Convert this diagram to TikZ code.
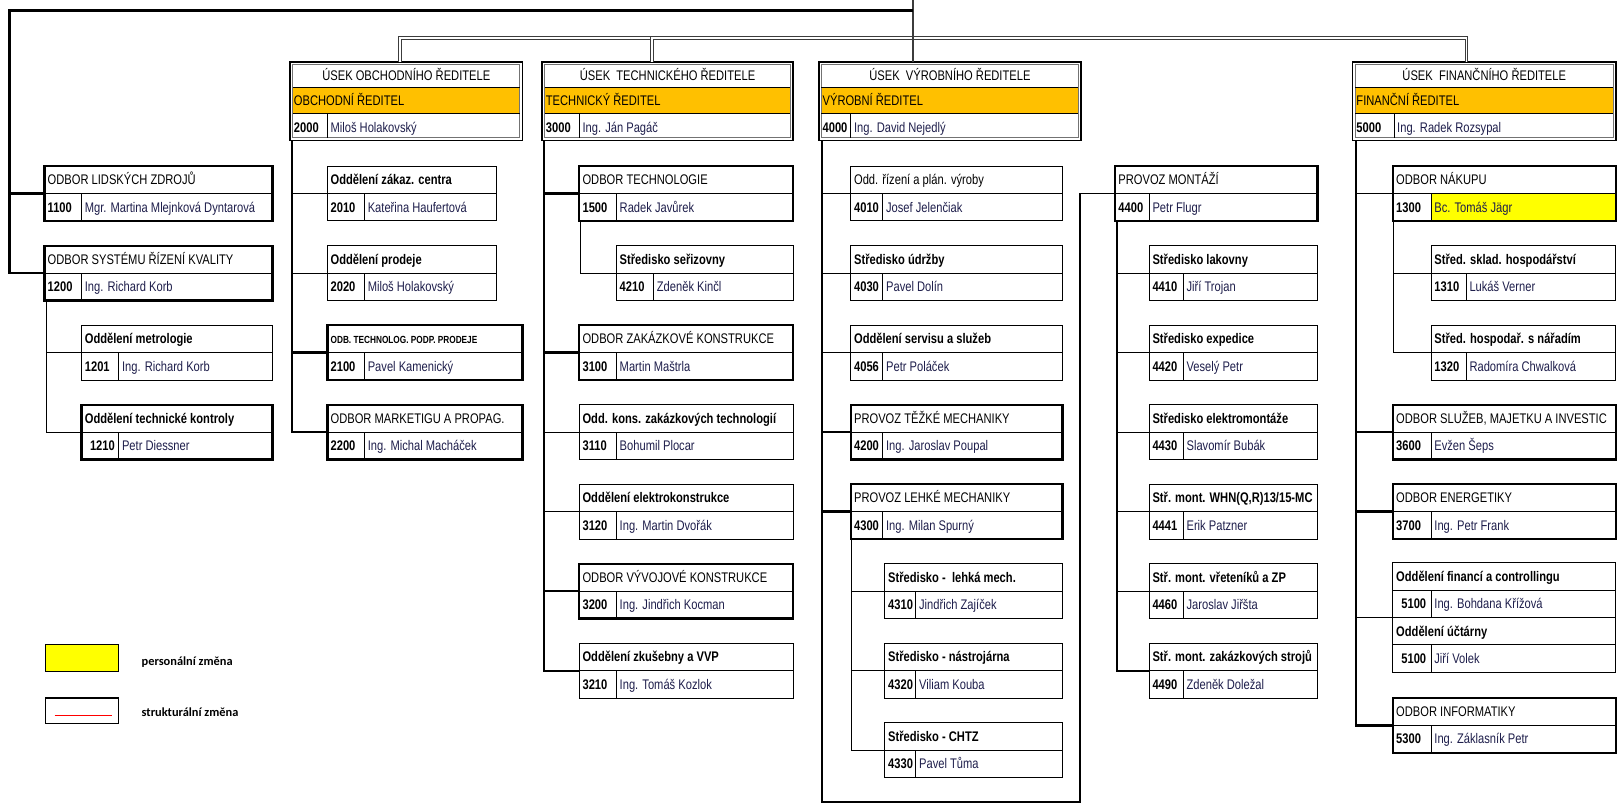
\documentclass[tikz,border=0pt]{standalone}
\usepackage{fontspec}
\setmainfont{Liberation Sans}[FakeStretch=0.8]
\newfontfamily\legfont{Carlito}
\usetikzlibrary{calc}
\usetikzlibrary{backgrounds}
\definecolor{roleorange}{RGB}{255,192,0}
\definecolor{perschange}{RGB}{255,255,0}
\definecolor{namenavy}{RGB}{30,30,75}
\definecolor{railgray}{RGB}{60,60,60}

\newcommand{\codew}{36}

\tikzset{
	boxthick/.style={draw, rectangle, line width=2.3pt, outer sep=0pt},
	boxthin/.style={draw, rectangle, line width=0.9pt, outer sep=0pt},
	usek/.style={draw, rectangle, line width=1.5pt, outer sep=0pt},
	divider/.style={line width=0.8pt},
	headtxt/.style={anchor=base west, inner sep=0pt, font=\fontsize{13.5}{15}\selectfont},
	codetxt/.style={anchor=base west, inner sep=0pt, font=\fontsize{13.5}{15}\selectfont\bfseries},
	nametxt/.style={anchor=base west, inner sep=0pt, text=namenavy, font=\fontsize{13.5}{15}\selectfont},
	usektxt/.style={anchor=base, inner sep=0pt, font=\fontsize{13.5}{15}\selectfont},
	conthick/.style={line width=2.3pt},
	conthin/.style={line width=0.9pt},
	trunk/.style={line width=1.7pt},
	rail/.style={draw=railgray, line width=0.9pt, double=white, double distance=1.5pt},
	legtxt/.style={anchor=west, inner sep=0pt, font=\legfont\bfseries\fontsize{12}{14}\selectfont},
}

\newcommand{\unitBox}[7]{
	\node[#7, minimum width=#3pt, minimum height=53pt, anchor=north west] (#1) at (#2) {};
	\draw[divider] (#1.west) -- (#1.east);
	\draw[divider] ($(#1.west)+(\codew,0)$) -- ($(#1.south west)+(\codew,0)$);
	\node[headtxt] at ($(#1.north west)+(3,18)$) {#4};
	\node[codetxt] at ($(#1.west)+(3,18)$) {#5};
	\node[nametxt] at ($(#1.west)+(\codew+3,18)$) {#6};
}
\newcommand{\usekBox}[7]{
	\node[usek, minimum width=#3pt, minimum height=76pt, anchor=north west] (#1) at (#2) {};
	\fill[roleorange] ($(#1.north west)+(2.5,25)$) rectangle ($(#1.north east)+(-2.5,50)$);
	\draw[divider, black!55] ($(#1.north west)+(2.5,2.5)$) rectangle ($(#1.south east)+(-2.5,-2.5)$);
	\draw[divider] ($(#1.north west)+(2.5,25)$) -- ($(#1.north east)+(-2.5,25)$);
	\draw[divider] ($(#1.north west)+(2.5,50)$) -- ($(#1.north east)+(-2.5,50)$);
	\draw[divider] ($(#1.north west)+(\codew,50)$) -- ($(#1.south west)+(\codew,-2.5)$);
	\node[usektxt] at ($(#1.north)+(0,17.5)$) {#4};
	\node[headtxt] at ($(#1.north west)+(3.5,42)$) {#5};
	\node[codetxt] at ($(#1.north west)+(3.5,68)$) {#6};
	\node[nametxt] at ($(#1.north west)+(\codew+3,68)$) {#7};
}

\begin{document}
\begin{tikzpicture}[x=1pt, y=-1pt]
	\begin{scope}[on background layer]
		\fill[white] (0,0) rectangle (1568,778);
	\end{scope}
	\useasboundingbox (0,0) rectangle (1568,778);

	\coordinate (CEO) at (884,0);
	\coordinate (RAIL) at (884,37);
	\coordinate (HR) at (9,10);
	\coordinate (VYR_LOOP) at (1046,777);

	\coordinate (LZ_TL) at (43,161);
	\coordinate (SRK_TL) at (43,238);
	\coordinate (MET_TL) at (79,315);
	\coordinate (TK_TL) at (79,392);

	\coordinate (OBCH_TL) at (281,60);
	\coordinate (ZAK_TL) at (317,161);
	\coordinate (PROD_TL) at (317,238);
	\coordinate (TPP_TL) at (317,315);
	\coordinate (MARK_TL) at (317,392);

	\coordinate (TECH_TL) at (525,60);
	\coordinate (OT_TL) at (561,161);
	\coordinate (SER_TL) at (597,238);
	\coordinate (ZK_TL) at (561,315);
	\coordinate (KZT_TL) at (561,392);
	\coordinate (EK_TL) at (561,469);
	\coordinate (VK_TL) at (561,546);
	\coordinate (ZVVP_TL) at (561,623);

	\coordinate (VYR_TL) at (793,60);
	\coordinate (RPV_TL) at (824,161);
	\coordinate (UDR_TL) at (824,238);
	\coordinate (SERS_TL) at (824,315);
	\coordinate (TM_TL) at (824,392);
	\coordinate (LM_TL) at (824,469);
	\coordinate (SLM_TL) at (857,546);
	\coordinate (SNJ_TL) at (857,623);
	\coordinate (CHTZ_TL) at (857,700);

	\coordinate (MONT_TL) at (1080,161);
	\coordinate (LAK_TL) at (1113,238);
	\coordinate (EXP_TL) at (1113,315);
	\coordinate (ELM_TL) at (1113,392);
	\coordinate (WHN_TL) at (1113,469);
	\coordinate (VZP_TL) at (1113,546);
	\coordinate (ZS_TL) at (1113,623);

	\coordinate (FIN_TL) at (1310,60);
	\coordinate (NAK_TL) at (1349,161);
	\coordinate (SKL_TL) at (1386,238);
	\coordinate (NAR_TL) at (1386,315);
	\coordinate (SMI_TL) at (1349,392);
	\coordinate (ENE_TL) at (1349,469);
	\coordinate (FC_TL) at (1349,545);
	\coordinate (UCT_TL) at (1349,598);
	\coordinate (INF_TL) at (1349,676);

	\unitBox{lz}{LZ_TL}{221}{ODBOR LIDSKÝCH ZDROJŮ}{1100}{Mgr. Martina Mlejnková Dyntarová}{boxthick}
	\unitBox{srk}{SRK_TL}{221}{ODBOR SYSTÉMU ŘÍZENÍ KVALITY}{1200}{Ing. Richard Korb}{boxthick}
	\unitBox{met}{MET_TL}{185}{\textbf{Oddělení metrologie}}{1201}{Ing. Richard Korb}{boxthin}
	\unitBox{tk}{TK_TL}{185}{\textbf{Oddělení technické kontroly}}{\hspace*{5pt}1210}{Petr Diessner}{boxthick}

	\usekBox{usekObch}{OBCH_TL}{225}{ÚSEK OBCHODNÍHO ŘEDITELE}{OBCHODNÍ ŘEDITEL}{2000}{Miloš Holakovský}
	\unitBox{zak}{ZAK_TL}{164}{\textbf{Oddělení zákaz. centra}}{2010}{Kateřina Haufertová}{boxthin}
	\unitBox{prod}{PROD_TL}{164}{\textbf{Oddělení prodeje}}{2020}{Miloš Holakovský}{boxthin}
	\unitBox{tpp}{TPP_TL}{189}{\fontsize{10}{12}\selectfont\bfseries ODB. TECHNOLOG. PODP. PRODEJE}{2100}{Pavel Kamenický}{boxthick}
	\unitBox{mark}{MARK_TL}{189}{ODBOR MARKETIGU A PROPAG.}{2200}{Ing. Michal Macháček}{boxthick}

	\usekBox{usekTech}{TECH_TL}{243}{ÚSEK\ \ TECHNICKÉHO ŘEDITELE}{TECHNICKÝ ŘEDITEL}{3000}{Ing. Ján Pagáč}
	\unitBox{tech}{OT_TL}{207}{ODBOR TECHNOLOGIE}{1500}{Radek Javůrek}{boxthick}
	\unitBox{ser}{SER_TL}{171}{\textbf{Středisko seřizovny}}{4210}{Zdeněk Kinčl}{boxthin}
	\unitBox{zk}{ZK_TL}{207}{ODBOR ZAKÁZKOVÉ KONSTRUKCE}{3100}{Martin Maštrla}{boxthick}
	\unitBox{kzt}{KZT_TL}{207}{\textbf{Odd. kons. zakázkových technologií}}{3110}{Bohumil Plocar}{boxthin}
	\unitBox{ek}{EK_TL}{207}{\textbf{Oddělení elektrokonstrukce}}{3120}{Ing. Martin Dvořák}{boxthin}
	\unitBox{vk}{VK_TL}{207}{ODBOR VÝVOJOVÉ KONSTRUKCE}{3200}{Ing. Jindřich Kocman}{boxthick}
	\unitBox{zvvp}{ZVVP_TL}{207}{\textbf{Oddělení zkušebny a VVP}}{3210}{Ing. Tomáš Kozlok}{boxthin}

	\renewcommand{\codew}{31}
	\usekBox{usekVyr}{VYR_TL}{254}{ÚSEK\ \ VÝROBNÍHO ŘEDITELE}{VÝROBNÍ ŘEDITEL}{4000}{Ing. David Nejedlý}
	\unitBox{rpv}{RPV_TL}{205}{Odd. řízení a plán. výroby}{4010}{Josef Jelenčiak}{boxthin}
	\unitBox{udr}{UDR_TL}{205}{\textbf{Středisko údržby}}{4030}{Pavel Dolín}{boxthin}
	\unitBox{sers}{SERS_TL}{205}{\textbf{Oddělení servisu a služeb}}{4056}{Petr Poláček}{boxthin}
	\unitBox{tm}{TM_TL}{205}{PROVOZ TĚŽKÉ MECHANIKY}{4200}{Ing. Jaroslav Poupal}{boxthick}
	\unitBox{lm}{LM_TL}{205}{PROVOZ LEHKÉ MECHANIKY}{4300}{Ing. Milan Spurný}{boxthick}
	\renewcommand{\codew}{30}
	\unitBox{slm}{SLM_TL}{172}{\textbf{Středisko -\ \ lehká mech.}}{4310}{Jindřich Zajíček}{boxthin}
	\unitBox{snj}{SNJ_TL}{172}{\textbf{Středisko - nástrojárna}}{4320}{Viliam Kouba}{boxthin}
	\unitBox{chtz}{CHTZ_TL}{172}{\textbf{Středisko - CHTZ}}{4330}{Pavel Tůma}{boxthin}

	\renewcommand{\codew}{33}
	\unitBox{montaz}{MONT_TL}{196}{PROVOZ MONTÁŽÍ}{4400}{Petr Flugr}{boxthick}
	\unitBox{lak}{LAK_TL}{163}{\textbf{Středisko lakovny}}{4410}{Jiří Trojan}{boxthin}
	\unitBox{exp}{EXP_TL}{163}{\textbf{Středisko expedice}}{4420}{Veselý Petr}{boxthin}
	\unitBox{elm}{ELM_TL}{163}{\textbf{Středisko elektromontáže}}{4430}{Slavomír Bubák}{boxthin}
	\unitBox{whn}{WHN_TL}{163}{\textbf{Stř. mont. WHN(Q,R)13/15-MC}}{4441}{Erik Patzner}{boxthin}
	\unitBox{vzp}{VZP_TL}{163}{\textbf{Stř. mont. vřeteníků a ZP}}{4460}{Jaroslav Jiřšta}{boxthin}
	\unitBox{zs}{ZS_TL}{163}{\textbf{Stř. mont. zakázkových strojů}}{4490}{Zdeněk Doležal}{boxthin}

	\renewcommand{\codew}{40}
	\usekBox{usekFin}{FIN_TL}{255}{ÚSEK\ \ FINANČNÍHO ŘEDITELE}{FINANČNÍ ŘEDITEL}{5000}{Ing. Radek Rozsypal}
	\renewcommand{\codew}{37}
	\unitBox{nak}{NAK_TL}{216}{ODBOR NÁKUPU}{1300}{Bc. Tomáš Jägr}{boxthick}
	\begin{scope}[on background layer]
		\fill[perschange] ($(nak.west)+(\codew,0)$) rectangle (nak.south east);
	\end{scope}
	\unitBox{smi}{SMI_TL}{216}{ODBOR SLUŽEB, MAJETKU A INVESTIC}{3600}{Evžen Šeps}{boxthick}
	\unitBox{ene}{ENE_TL}{216}{ODBOR ENERGETIKY}{3700}{Ing. Petr Frank}{boxthick}
	\unitBox{fc}{FC_TL}{216}{\textbf{Oddělení financí a controllingu}}{\hspace*{5pt}5100}{Ing. Bohdana Křížová}{boxthin}
	\unitBox{uct}{UCT_TL}{216}{\textbf{Oddělení účtárny}}{\hspace*{5pt}5100}{Jiří Volek}{boxthin}
	\unitBox{inf}{INF_TL}{216}{ODBOR INFORMATIKY}{5300}{Ing. Záklasník Petr}{boxthick}
	\renewcommand{\codew}{34}
	\unitBox{skl}{SKL_TL}{179}{\textbf{Střed. sklad. hospodářství}}{1310}{Lukáš Verner}{boxthin}
	\unitBox{nar}{NAR_TL}{179}{\textbf{Střed. hospodař. s nářadím}}{1320}{Radomíra Chwalková}{boxthin}

	% top rail
	\draw[rail] ([xshift=-6pt]usekObch.north) |- (RAIL) -| ([xshift=-17pt]usekFin.north);
	\draw[rail] ([xshift=-15pt]usekTech.north) |- (RAIL);
	\draw[railgray, line width=2pt] (CEO) -- (CEO |- usekVyr.north);
	\draw[line width=2.4pt] (CEO |- HR) -- (HR) |- (srk.west);
	\draw[conthick] (HR |- lz.west) -- (lz.west);

	\coordinate (T_SRK) at ($(srk.south west)+(2,0)$);
	\draw[conthin] (T_SRK) |- (tk.west);
	\draw[conthin] (T_SRK |- met.west) -- (met.west);

	\coordinate (T_OBCH) at ($(usekObch.south west)+(2,0)$);
	\draw[conthick] (T_OBCH) |- (mark.west);
	\draw[conthin] (T_OBCH |- zak.west) -- (zak.west);
	\draw[conthin] (T_OBCH |- prod.west) -- (prod.west);
	\draw[conthick] (T_OBCH |- tpp.west) -- (tpp.west);

	\coordinate (T_TECH) at ($(usekTech.south west)+(2,0)$);
	\draw[trunk] (T_TECH) |- (zvvp.west);
	\draw[conthick] (T_TECH |- tech.west) -- (tech.west);
	\draw[conthick] (T_TECH |- zk.west) -- (zk.west);
	\draw[conthin] (T_TECH |- kzt.west) -- (kzt.west);
	\draw[conthin] (T_TECH |- ek.west) -- (ek.west);
	\draw[conthick] (T_TECH |- vk.west) -- (vk.west);
	\coordinate (T_OT) at ($(tech.south west)+(1,0)$);
	\draw[conthin] (T_OT) |- (ser.west);

	\coordinate (T_VYR) at ($(usekVyr.south west)+(3,0)$);
	\draw[trunk] (T_VYR) |- (VYR_LOOP) |- (montaz.west);
	\draw[conthin] (T_VYR |- rpv.west) -- (rpv.west);
	\draw[conthin] (T_VYR |- udr.west) -- (udr.west);
	\draw[conthin] (T_VYR |- sers.west) -- (sers.west);
	\draw[conthick] (T_VYR |- tm.west) -- (tm.west);
	\draw[conthick] (T_VYR |- lm.west) -- (lm.west);
	\coordinate (T_LM) at ($(lm.south west)+(1,0)$);
	\draw[conthin] (T_LM) |- (chtz.west);
	\draw[conthin] (T_LM |- slm.west) -- (slm.west);
	\draw[conthin] (T_LM |- snj.west) -- (snj.west);

	\coordinate (T_MONT) at ($(montaz.south west)+(2,0)$);
	\draw[trunk] (T_MONT) |- (zs.west);
	\foreach \u in {lak,exp,elm,whn,vzp}
		\draw[conthin] (T_MONT |- \u.west) -- (\u.west);

	\coordinate (T_FIN) at ($(usekFin.south west)+(3,0)$);
	\draw[conthick] (T_FIN) |- (inf.west);
	\draw[conthin] (T_FIN |- nak.west) -- (nak.west);
	\draw[conthick] (T_FIN |- smi.west) -- (smi.west);
	\draw[conthick] (T_FIN |- ene.west) -- (ene.west);
	\draw[conthin] (T_FIN |- fc.south west) -- (fc.south west);
	\coordinate (T_NAK) at ($(nak.south west)+(1,0)$);
	\draw[conthin] (T_NAK) |- (nar.west);
	\draw[conthin] (T_NAK |- skl.west) -- (skl.west);

	% legend
	\node[draw, line width=1pt, fill=perschange, minimum width=71pt, minimum height=26pt, anchor=north west, outer sep=0pt] (legPers) at (44,624) {};
	\node[legtxt] at ($(legPers.east)+(22,4)$) {personální změna};
	\node[draw, line width=1pt, minimum width=71pt, minimum height=25pt, anchor=north west, outer sep=0pt] (legStruct) at (44,676) {};
	\draw[red, line width=0.8pt] ($(legStruct.west)+(9,4)$) -- ($(legStruct.east)+(-7,4)$);
	\node[legtxt] at ($(legStruct.east)+(22,1.5)$) {strukturální změna};
\end{tikzpicture}
\end{document}
